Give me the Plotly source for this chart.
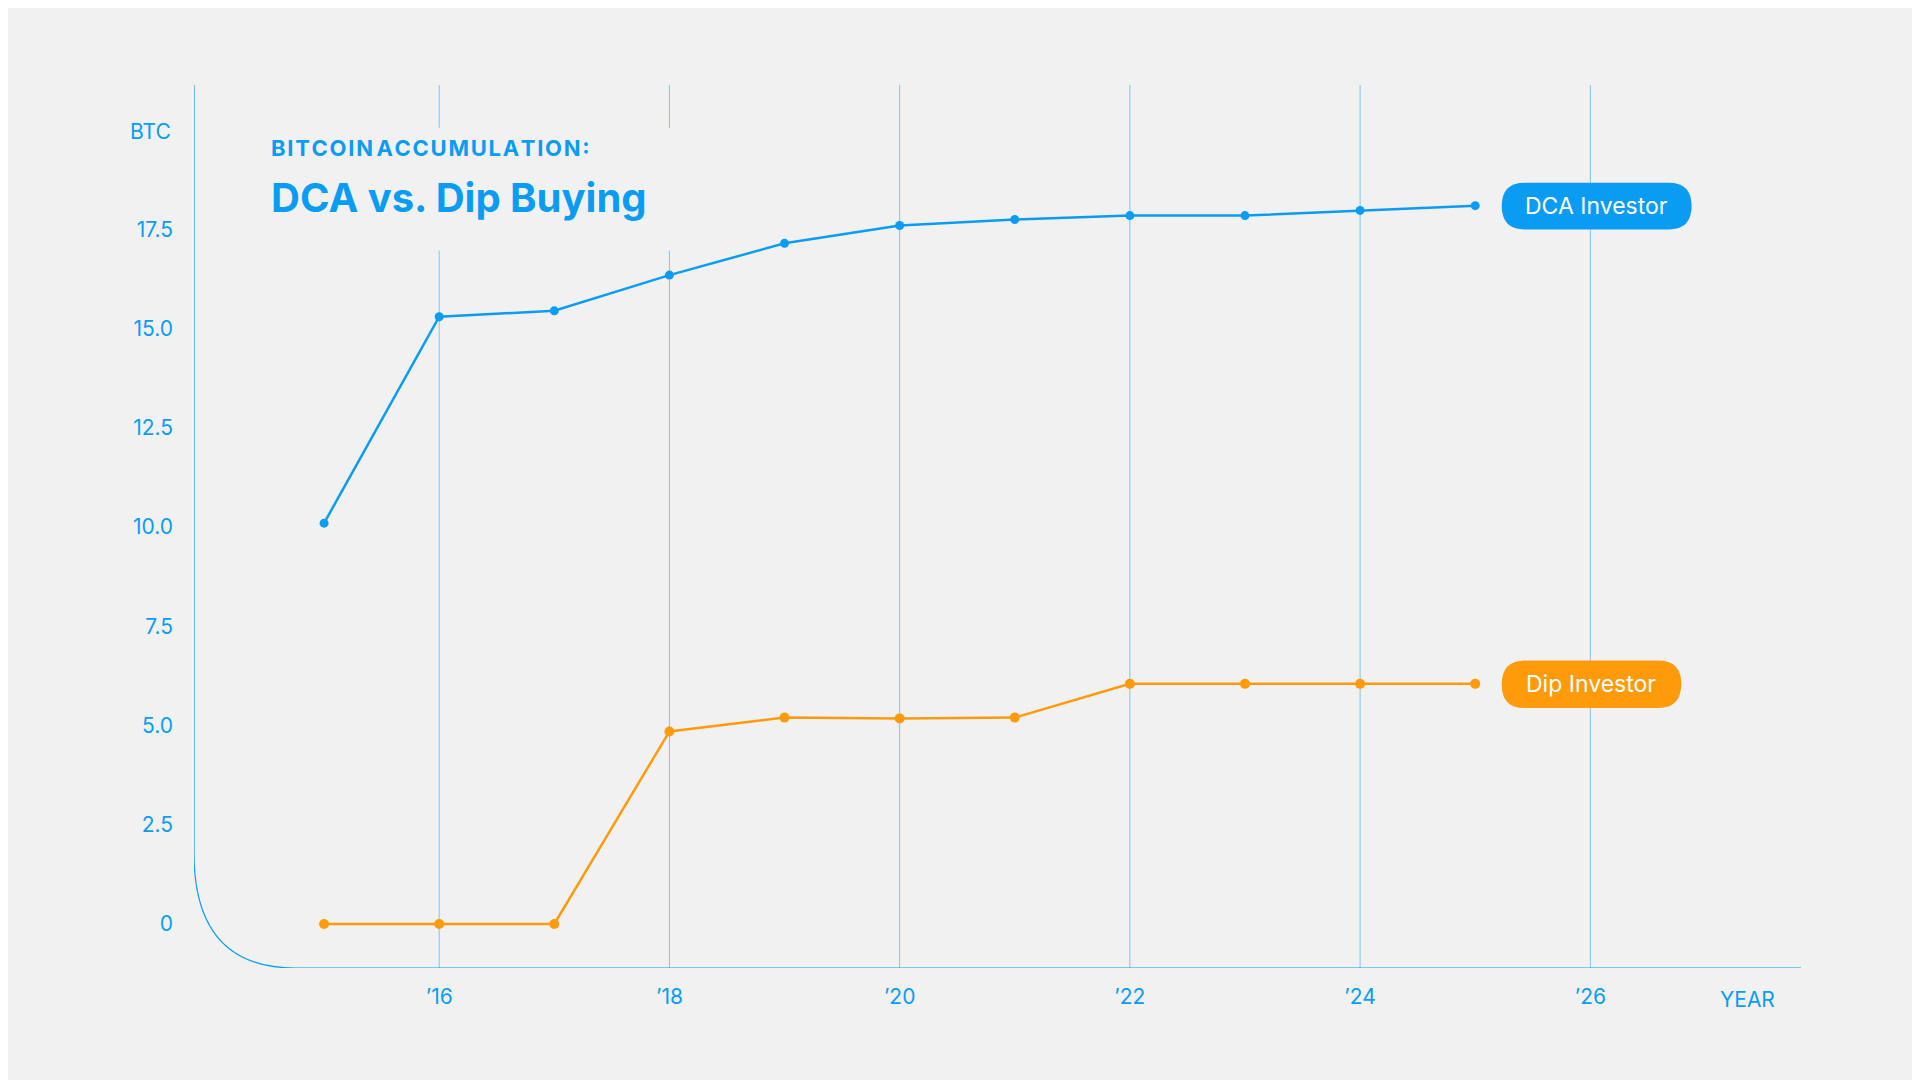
import plotly.graph_objects as go

years = list(range(2015, 2026))
dca_btc = [10.1, 15.3, 15.45, 16.35, 17.15, 17.6, 17.75, 17.85, 17.85, 17.98, 18.1]
dip_btc = [0, 0, 0, 4.85, 5.2, 5.18, 5.2, 6.05, 6.05, 6.05, 6.05]
y_ticks = [0, 2.5, 5, 7.5, 10, 12.5, 15, 17.5]
y_labels = ["0", "2.5", "5.0", "7.5", "10.0", "12.5", "15.0", "17.5"]
x_ticks = [2016, 2018, 2020, 2022, 2024, 2026]
x_labels = ["\u201916", "\u201918", "\u201920", "\u201922", "\u201924", "\u201926"]

BLUE = "#0a9cf2"
ORANGE = "#ff9b0a"
BG = "#f1f1f1"
FONT = "Inter"

X0, X1 = 2013.87, 2027.83
Y0, Y1 = -1.11, 21.14

fig = go.Figure()
fig.add_trace(go.Scatter(x=years, y=dca_btc, mode="lines+markers",
                         line=dict(color=BLUE, width=2.5), marker=dict(size=9, color=BLUE)))
fig.add_trace(go.Scatter(x=years, y=dip_btc, mode="lines+markers",
                         line=dict(color=ORANGE, width=2.5), marker=dict(size=10, color=ORANGE)))

shapes = []
for gx in x_ticks:
    shapes.append(dict(type="line", xref="x", yref="y", x0=gx, x1=gx, y0=Y0, y1=Y1,
                       line=dict(color="#7cc6f3", width=1), layer="below"))
# mask behind title
shapes.append(dict(type="rect", xref="x", yref="y", x0=2014.35, x1=2018.1, y0=16.97, y1=20.06,
                   fillcolor=BG, line=dict(width=0), layer="below"))
# axis with rounded corner
rx, ry = 0.88, 2.9
shapes.append(dict(type="path", xref="x", yref="y",
                   path=f"M {X0},{Y1} L {X0},{Y0+ry} Q {X0},{Y0} {X0+rx},{Y0} L {X1},{Y0}",
                   line=dict(color=BLUE, width=1.2)))

def pill(xa, xb, ya, yb, color):
    r_x, r_y = 0.2, 0.59
    p = (f"M {xa+r_x},{yb} L {xb-r_x},{yb} Q {xb},{yb} {xb},{yb-r_y} "
         f"Q {xb},{ya} {xb-r_x},{ya} L {xa+r_x},{ya} Q {xa},{ya} {xa},{ya+r_y} "
         f"Q {xa},{yb} {xa+r_x},{yb} Z")
    return dict(type="path", xref="x", yref="y", path=p, fillcolor=color,
                line=dict(width=0), layer="above")

shapes.append(pill(2025.23, 2026.88, 17.5, 18.68, BLUE))
shapes.append(pill(2025.23, 2026.79, 5.44, 6.64, ORANGE))

annotations = [
    dict(x=2026.055, y=18.09, xref="x", yref="y", text="DCA Investor", showarrow=False,
         font=dict(family=FONT, size=23, color="white")),
    dict(x=2026.01, y=6.04, xref="x", yref="y", text="Dip Investor", showarrow=False,
         font=dict(family=FONT, size=23, color="white")),
    dict(x=2014.52, y=19.55, xref="x", yref="y",
         text="<b>B I T C O I N  A C C U M U L A T I O N :</b>".replace(" ", "\u200a"),
         showarrow=False, xanchor="left", font=dict(family=FONT, size=22, color=BLUE)),
    dict(x=2014.52, y=18.3, xref="x", yref="y", text="<b>DCA vs. Dip Buying</b>",
         showarrow=False, xanchor="left", font=dict(family=FONT, size=40, color=BLUE)),
    dict(x=-0.013, y=0.947, xref="paper", yref="paper", text="BTC", showarrow=False,
         xanchor="right", yanchor="middle", font=dict(family=FONT, size=21, color=BLUE)),
    dict(x=0.985, y=-0.036, xref="paper", yref="paper", text="YEAR", showarrow=False,
         xanchor="right", yanchor="middle", font=dict(family=FONT, size=21, color=BLUE)),
]

fig.update_layout(
    width=1920, height=1080, paper_bgcolor=BG, plot_bgcolor=BG, showlegend=False,
    margin=dict(l=186, r=127, t=77, b=120),
    font=dict(family=FONT, size=21, color=BLUE),
    xaxis=dict(range=[X0, X1], tickvals=x_ticks, ticktext=x_labels, showgrid=False,
               zeroline=False, showline=False, ticks="", ticklabelstandoff=14),
    yaxis=dict(range=[Y0, Y1], tickvals=y_ticks, ticktext=y_labels, showgrid=False,
               zeroline=False, showline=False, ticks="", ticklabelstandoff=20),
    shapes=shapes, annotations=annotations,
)
fig.write_html("out.html")
